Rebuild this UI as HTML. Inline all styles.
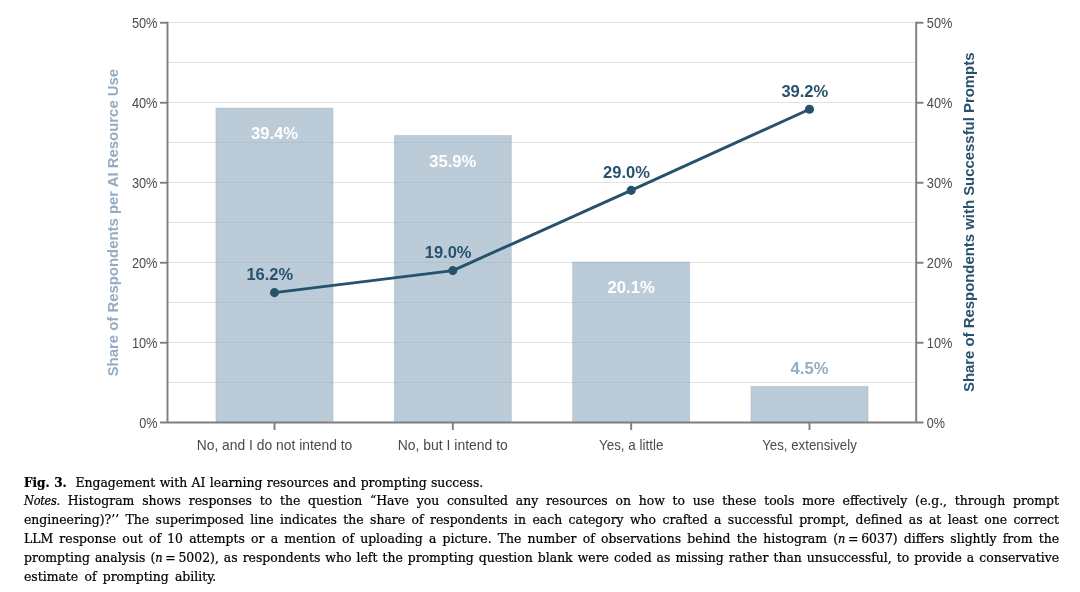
<!DOCTYPE html>
<html lang="en">
<head>
<meta charset="utf-8">
<title>Fig. 3. Engagement with AI learning resources and prompting success</title>
<style>
html,body{margin:0;padding:0;background:#ffffff;}
body{width:1080px;height:592px;position:relative;overflow:hidden;}
.cap{position:absolute;left:24px;top:472.5px;width:1035px;font-family:"DejaVu Serif Condensed","Liberation Serif",serif;font-size:13.8px;line-height:18.93px;font-size-adjust:0.5075;color:#000;-webkit-text-stroke:0.22px #000;}
.cap b{font-size:13.3px;font-size-adjust:0.5267;}
.cap .eq{display:inline-block;word-spacing:-1.1px;text-align:left;text-align-last:auto;}
.cap i{font-size:12.6px;font-size-adjust:0.5557;letter-spacing:-0.25px;}
.ln{white-space:nowrap;height:18.93px;text-align:justify;text-align-last:justify;width:1035px;overflow:visible;}
.ln.l0{width:459.3px;}
.ln.l5{width:192.3px;}
</style>
</head>
<body>
<svg width="1080" height="470" viewBox="0 0 1080 470" style="position:absolute;left:0;top:0" font-family='"Liberation Sans", "DejaVu Sans", sans-serif'>
<line x1="167.5" x2="916.2" y1="22.5" y2="22.5" stroke="#e2e2e2" stroke-width="1"/>
<line x1="167.5" x2="916.2" y1="62.5" y2="62.5" stroke="#e2e2e2" stroke-width="1"/>
<line x1="167.5" x2="916.2" y1="102.5" y2="102.5" stroke="#e2e2e2" stroke-width="1"/>
<line x1="167.5" x2="916.2" y1="142.5" y2="142.5" stroke="#e2e2e2" stroke-width="1"/>
<line x1="167.5" x2="916.2" y1="182.5" y2="182.5" stroke="#e2e2e2" stroke-width="1"/>
<line x1="167.5" x2="916.2" y1="222.5" y2="222.5" stroke="#e2e2e2" stroke-width="1"/>
<line x1="167.5" x2="916.2" y1="262.5" y2="262.5" stroke="#e2e2e2" stroke-width="1"/>
<line x1="167.5" x2="916.2" y1="302.5" y2="302.5" stroke="#e2e2e2" stroke-width="1"/>
<line x1="167.5" x2="916.2" y1="342.5" y2="342.5" stroke="#e2e2e2" stroke-width="1"/>
<line x1="167.5" x2="916.2" y1="382.5" y2="382.5" stroke="#e2e2e2" stroke-width="1"/>
<rect x="215.95" y="108.00" width="117.10" height="314.50" fill="#94adc0" fill-opacity="0.63" stroke="#94adc0" stroke-opacity="0.45" stroke-width="0.8"/>
<rect x="394.28" y="135.50" width="117.10" height="287.00" fill="#94adc0" fill-opacity="0.63" stroke="#94adc0" stroke-opacity="0.45" stroke-width="0.8"/>
<rect x="572.62" y="262.00" width="117.10" height="160.50" fill="#94adc0" fill-opacity="0.63" stroke="#94adc0" stroke-opacity="0.45" stroke-width="0.8"/>
<rect x="750.95" y="386.40" width="117.10" height="36.10" fill="#94adc0" fill-opacity="0.63" stroke="#94adc0" stroke-opacity="0.45" stroke-width="0.8"/>
<g stroke="#7e7e7e" stroke-width="1.9" fill="none">
<line x1="167.5" x2="167.5" y1="21.7" y2="422.5"/>
<line x1="916.2" x2="916.2" y1="21.7" y2="422.5"/>
<line x1="160" x2="923.5" y1="422.5" y2="422.5"/>
<line x1="160" x2="167.5" y1="22.75" y2="22.75"/>
<line x1="916.2" x2="923.5" y1="22.75" y2="22.75"/>
<line x1="160" x2="167.5" y1="102.75" y2="102.75"/>
<line x1="916.2" x2="923.5" y1="102.75" y2="102.75"/>
<line x1="160" x2="167.5" y1="182.75" y2="182.75"/>
<line x1="916.2" x2="923.5" y1="182.75" y2="182.75"/>
<line x1="160" x2="167.5" y1="262.75" y2="262.75"/>
<line x1="916.2" x2="923.5" y1="262.75" y2="262.75"/>
<line x1="160" x2="167.5" y1="342.75" y2="342.75"/>
<line x1="916.2" x2="923.5" y1="342.75" y2="342.75"/>
<line x1="274.50" x2="274.50" y1="422.5" y2="430"/>
<line x1="452.83" x2="452.83" y1="422.5" y2="430"/>
<line x1="631.17" x2="631.17" y1="422.5" y2="430"/>
<line x1="809.50" x2="809.50" y1="422.5" y2="430"/>
</g>
<g fill="#4a4a4a" font-size="14.6">
<text x="157.5" y="27.7" text-anchor="end" textLength="25.6" lengthAdjust="spacingAndGlyphs">50%</text>
<text x="926.8" y="27.7" text-anchor="start" textLength="25.6" lengthAdjust="spacingAndGlyphs">50%</text>
<text x="157.5" y="107.7" text-anchor="end" textLength="25.6" lengthAdjust="spacingAndGlyphs">40%</text>
<text x="926.8" y="107.7" text-anchor="start" textLength="25.6" lengthAdjust="spacingAndGlyphs">40%</text>
<text x="157.5" y="187.7" text-anchor="end" textLength="25.6" lengthAdjust="spacingAndGlyphs">30%</text>
<text x="926.8" y="187.7" text-anchor="start" textLength="25.6" lengthAdjust="spacingAndGlyphs">30%</text>
<text x="157.5" y="267.7" text-anchor="end" textLength="25.6" lengthAdjust="spacingAndGlyphs">20%</text>
<text x="926.8" y="267.7" text-anchor="start" textLength="25.6" lengthAdjust="spacingAndGlyphs">20%</text>
<text x="157.5" y="347.7" text-anchor="end" textLength="25.6" lengthAdjust="spacingAndGlyphs">10%</text>
<text x="926.8" y="347.7" text-anchor="start" textLength="25.6" lengthAdjust="spacingAndGlyphs">10%</text>
<text x="157.5" y="427.7" text-anchor="end" textLength="18.2" lengthAdjust="spacingAndGlyphs">0%</text>
<text x="926.8" y="427.7" text-anchor="start" textLength="18.2" lengthAdjust="spacingAndGlyphs">0%</text>
<text x="274.50" y="449.5" text-anchor="middle" textLength="155.6" lengthAdjust="spacingAndGlyphs">No, and I do not intend to</text>
<text x="452.83" y="449.5" text-anchor="middle" textLength="110.1" lengthAdjust="spacingAndGlyphs">No, but I intend to</text>
<text x="631.17" y="449.5" text-anchor="middle" textLength="64.4" lengthAdjust="spacingAndGlyphs">Yes, a little</text>
<text x="809.50" y="449.5" text-anchor="middle" textLength="94.5" lengthAdjust="spacingAndGlyphs">Yes, extensively</text>
</g>
<polyline points="274.50,292.60 452.83,270.60 631.17,190.40 809.50,109.20" fill="none" stroke="#27526d" stroke-width="2.9" stroke-linejoin="round"/>
<circle cx="274.50" cy="292.60" r="4.55" fill="#27526d"/>
<circle cx="452.83" cy="270.60" r="4.55" fill="#27526d"/>
<circle cx="631.17" cy="190.40" r="4.55" fill="#27526d"/>
<circle cx="809.50" cy="109.20" r="4.55" fill="#27526d"/>
<g font-size="16" font-weight="bold" text-anchor="middle">
<text x="274.50" y="138.80" fill="#ffffff" textLength="47.2" lengthAdjust="spacingAndGlyphs">39.4%</text>
<text x="452.83" y="166.80" fill="#ffffff" textLength="47.2" lengthAdjust="spacingAndGlyphs">35.9%</text>
<text x="631.17" y="293.20" fill="#ffffff" textLength="47.2" lengthAdjust="spacingAndGlyphs">20.1%</text>
<text x="809.50" y="374.30" fill="#94adc2" textLength="37.9" lengthAdjust="spacingAndGlyphs">4.5%</text>
<text x="269.80" y="280.40" fill="#27526d" textLength="46.8" lengthAdjust="spacingAndGlyphs">16.2%</text>
<text x="448.13" y="258.40" fill="#27526d" textLength="46.8" lengthAdjust="spacingAndGlyphs">19.0%</text>
<text x="626.47" y="178.20" fill="#27526d" textLength="46.8" lengthAdjust="spacingAndGlyphs">29.0%</text>
<text x="804.80" y="97.00" fill="#27526d" textLength="46.8" lengthAdjust="spacingAndGlyphs">39.2%</text>
</g>
<text transform="translate(118.1,222.6) rotate(-90)" text-anchor="middle" font-size="15.3" font-weight="bold" fill="#94adc2" textLength="307.5" lengthAdjust="spacingAndGlyphs">Share of Respondents per AI Resource Use</text>
<text transform="translate(973.8,222.3) rotate(-90)" text-anchor="middle" font-size="15.4" font-weight="bold" fill="#27526d" textLength="339.5" lengthAdjust="spacingAndGlyphs">Share of Respondents with Successful Prompts</text>
</svg>
<div class="cap">
<div class="ln l0"><b>Fig. 3.</b>&nbsp; Engagement with AI learning resources and prompting success.</div>
<div class="ln lj"><i>Notes.</i> Histogram shows responses to the question “Have you consulted any resources on how to use these tools more effectively (e.g., through prompt</div>
<div class="ln lj">engineering)?’’ The superimposed line indicates the share of respondents in each category who crafted a successful prompt, defined as at least one correct</div>
<div class="ln lj">LLM response out of 10 attempts or a mention of uploading a picture. The number of observations behind the histogram <span class='eq'>(<i>n</i> = 6037)</span> differs slightly from the</div>
<div class="ln lj">prompting analysis <span class='eq'>(<i>n</i> = 5002),</span> as respondents who left the prompting question blank were coded as missing rather than unsuccessful, to provide a conservative</div>
<div class="ln l5">estimate of prompting ability.</div>
</div>
</body>
</html>
